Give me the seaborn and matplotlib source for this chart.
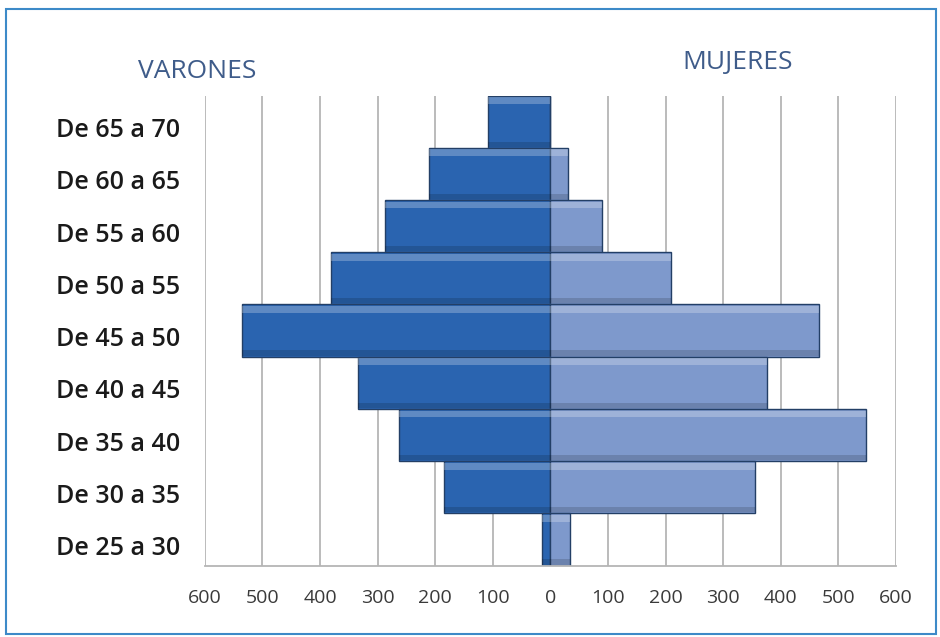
import numpy as np
import pandas as pd
import matplotlib
matplotlib.use("Agg")
import matplotlib.pyplot as plt
import matplotlib.transforms as mtrans
import seaborn as sns
from matplotlib.patches import Rectangle

# datos de la piramide (de arriba hacia abajo)
grupos = ["De 65 a 70", "De 60 a 65", "De 55 a 60", "De 50 a 55", "De 45 a 50",
          "De 40 a 45", "De 35 a 40", "De 30 a 35", "De 25 a 30"]
varones = [108, 211, 288, 381, 535, 334, 263, 185, 14]
mujeres = [0, 30, 90, 210, 467, 377, 548, 355, 34]
ticks = [-600, -500, -400, -300, -200, -100, 0, 100, 200, 300, 400, 500, 600]

df = pd.DataFrame({
    "grupo": grupos * 2,
    "sexo": ["Varones"] * len(grupos) + ["Mujeres"] * len(grupos),
    "valor": [-v for v in varones] + mujeres,
})

sns.set_theme(style="white")
plt.rcParams["font.family"] = ["Open Sans", "DejaVu Sans"]

fig = plt.figure(figsize=(9.4, 6.37), dpi=100)
ax = fig.add_axes([0.218, 0.112, 0.735, 0.738])

# grid first so bars sit on top
for t in ticks:
    ax.axvline(t, color="#b5b5b5", lw=1.3, zorder=0)

sns.barplot(data=df, y="grupo", x="valor", hue="sexo", orient="h", dodge=False,
            width=1.0, saturation=1, palette={"Varones": "#2a64b0", "Mujeres": "#7e99cc"},
            edgecolor="#233f66", linewidth=1.0, legend=False, ax=ax, zorder=2)

# bevel look: light band on top, darker band at the bottom
for p in list(ax.patches):
    if p.get_width() == 0:
        continue
    x0, y0 = p.get_x(), p.get_y()
    w, h = p.get_width(), p.get_height()
    ax.add_patch(Rectangle((x0, y0 + h * 0.03), w, h * 0.13, color="white",
                           alpha=0.25, lw=0, zorder=3))
    ax.add_patch(Rectangle((x0, y0 + h * 0.88), w, h * 0.10, color="black",
                           alpha=0.15, lw=0, zorder=3))

ax.set_xlim(-600, 600)
ax.set_ylim(len(grupos) - 0.5, -0.5)
ax.set_xticks(ticks)
ax.set_xticklabels([str(abs(t)) for t in ticks], fontsize=14, color="#3a3a3a")
ax.tick_params(axis="x", length=4, color="#b5b5b5", pad=13)
ax.tick_params(axis="y", length=0, pad=18)
shift = mtrans.ScaledTranslation(0, -6 / 100, fig.dpi_scale_trans)
for lbl in ax.get_yticklabels():
    lbl.set_fontsize(18)
    lbl.set_fontweight("semibold")
    lbl.set_color("#1a1a1a")
    lbl.set_transform(lbl.get_transform() + shift)
ax.set_xlabel("")
ax.set_ylabel("")
for s in ["top", "right", "left"]:
    ax.spines[s].set_visible(False)
ax.spines["bottom"].set_color("#b5b5b5")
ax.spines["bottom"].set_linewidth(1.3)

fig.text(0.210, 0.887, "VARONES", fontsize=19, color="#3f5c8a", ha="center", va="center")
fig.text(0.785, 0.902, "MUJERES", fontsize=19, color="#3f5c8a", ha="center", va="center")

# marco azul
fig.patches.append(Rectangle((0.006, 0.004), 0.99, 0.982, transform=fig.transFigure,
                             fill=False, edgecolor="#3d8ac8", lw=1.5))

fig.savefig("out.png", dpi=100)
